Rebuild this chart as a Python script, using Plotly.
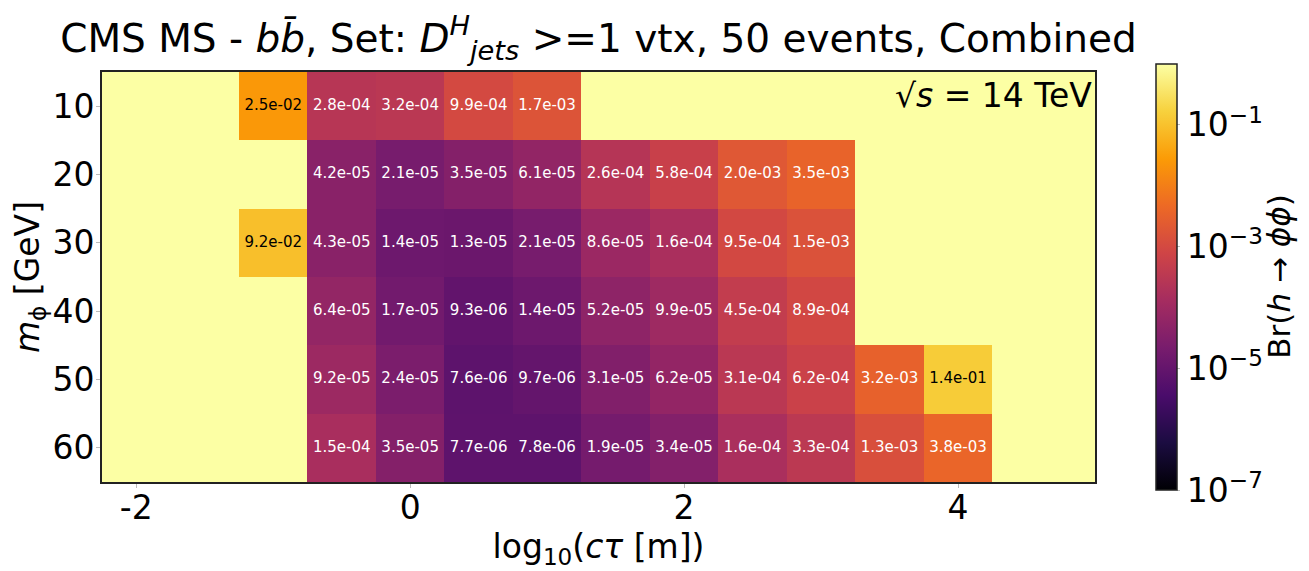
import numpy as np
import plotly.graph_objects as go

# log10(c tau [m]) column centres and phi masses (GeV)
ctau = [-2.0, -1.5, -1.0, -0.5, 0.0, 0.5, 1.0, 1.5, 2.0, 2.5, 3.0, 3.5, 4.0, 4.5, 5.0]
masses = [10, 20, 30, 40, 50, 60]

N = None
# Br(h -> phi phi) limits per mass row (None = no limit, drawn as top colour)
br_m10 = [N, N, 2.5e-02, 2.8e-04, 3.2e-04, 9.9e-04, 1.7e-03, N, N, N, N, N, N, N, N]
br_m20 = [N, N, N, 4.2e-05, 2.1e-05, 3.5e-05, 6.1e-05, 2.6e-04, 5.8e-04, 2.0e-03, 3.5e-03, N, N, N, N]
br_m30 = [N, N, 9.2e-02, 4.3e-05, 1.4e-05, 1.3e-05, 2.1e-05, 8.6e-05, 1.6e-04, 9.5e-04, 1.5e-03, N, N, N, N]
br_m40 = [N, N, N, 6.4e-05, 1.7e-05, 9.3e-06, 1.4e-05, 5.2e-05, 9.9e-05, 4.5e-04, 8.9e-04, N, N, N, N]
br_m50 = [N, N, N, 9.2e-05, 2.4e-05, 7.6e-06, 9.7e-06, 3.1e-05, 6.2e-05, 3.1e-04, 6.2e-04, 3.2e-03, 1.4e-01, N, N]
br_m60 = [N, N, N, 1.5e-04, 3.5e-05, 7.7e-06, 7.8e-06, 1.9e-05, 3.4e-05, 1.6e-04, 3.3e-04, 1.3e-03, 3.8e-03, N, N]
rows = [br_m10, br_m20, br_m30, br_m40, br_m50, br_m60]

cbar_ticks = [-7, -5, -3, -1]
cbar_text = ["10<sup>\u22127</sup>", "10<sup>\u22125</sup>", "10<sup>\u22123</sup>", "10<sup>\u22121</sup>"]

vmin, vmax = 1e-7, 1.0
z = np.array([[np.log10(v if v is not None else vmax) for v in r] for r in rows])

inferno = ['#000004', '#1b0c41', '#4a0c6b', '#781c6d', '#a52c60',
           '#cf4446', '#ed6925', '#fb9b06', '#f7d13d', '#fcffa4']

FONT = "DejaVu Sans"
W, H = 1301, 563  # page body has an 8px margin in the 1309x571 window

fig = go.Figure()
fig.add_trace(go.Heatmap(
    x=ctau, y=masses, z=z, zmin=np.log10(vmin), zmax=np.log10(vmax),
    colorscale=inferno, hoverinfo="skip",
    colorbar=dict(
        x=1.0614, xanchor="left", xpad=0, y=0.5, yanchor="middle", ypad=0,
        len=1.039, lenmode="fraction", thickness=21,
        outlinewidth=1.5, outlinecolor="#222",
        tickvals=cbar_ticks, ticktext=cbar_text,
        ticks="outside", ticklen=3, tickcolor="#bbb",
        tickfont=dict(size=33, family=FONT, color="black"),
    ),
))

# cell labels: dark text on bright cells, white on dark ones
for dark in (True, False):
    xs, ys, ts = [], [], []
    for m, r in zip(masses, rows):
        for c, v in zip(ctau, r):
            if v is None or (v >= 1e-2) != dark:
                continue
            xs.append(c); ys.append(m); ts.append(f"{v:.1e}")
    fig.add_trace(go.Scatter(
        x=xs, y=ys, text=ts, mode="text", hoverinfo="skip", showlegend=False,
        textfont=dict(size=15, family=FONT, color="black" if dark else "white"),
    ))

fig.add_annotation(
    text="\u221a<i>s</i> = 14 TeV", xref="paper", yref="paper", x=0.999, y=0.995,
    xanchor="right", yanchor="top", showarrow=False,
    font=dict(size=33, family=FONT, color="black"),
)
# colorbar label
fig.add_annotation(
    text="Br(<i>h</i> \u2192 <i>\u03d5\u03d5</i>)", xref="paper", yref="paper", x=1.185, y=0.5,
    xanchor="center", yanchor="middle", textangle=-90, showarrow=False,
    font=dict(size=31, family=FONT, color="black"),
)

fig.update_layout(
    width=W, height=H,
    margin=dict(l=94, r=214, t=64, b=89, autoexpand=False),
    paper_bgcolor="white", plot_bgcolor="#fcffa4",
    font=dict(family=FONT, color="black"),
    title=dict(
        text="CMS MS - <i>b</i><i>b\u0304</i>, Set: <i>D</i><sup><i>H</i></sup><sub><i>jets</i></sub> >=1 vtx, 50 events, Combined",
        x=0.5, xref="paper", xanchor="center", y=1 - 30 / H, yref="container", yanchor="middle",
        font=dict(size=39, family=FONT, color="black"),
    ),
    showlegend=False,
)
fig.update_xaxes(
    range=[-2.25, 5.0], tickvals=[-2, 0, 2, 4], ticktext=["-2", "0", "2", "4"],
    showline=True, linewidth=2, linecolor="#222", mirror=True,
    ticks="outside", ticklen=4, tickcolor="#bbb", showgrid=False, zeroline=False,
    tickfont=dict(size=33, family=FONT), automargin=False, ticklabelstandoff=-9,
    title=dict(text="log<sub>10</sub>(<i>c\u03c4</i> [m])", font=dict(size=33, family=FONT), standoff=0),
)
fig.update_yaxes(
    range=[65, 5], tickvals=masses,
    showline=True, linewidth=2, linecolor="#222", mirror=True,
    ticks="outside", ticklen=4, tickcolor="#bbb", showgrid=False, zeroline=False,
    tickfont=dict(size=33, family=FONT), automargin=False, ticklabelstandoff=-5,
    title=dict(text="<i>m</i><sub>\u03d5</sub> [GeV]", font=dict(size=33, family=FONT), standoff=6),
)

fig.write_html("out.html")
